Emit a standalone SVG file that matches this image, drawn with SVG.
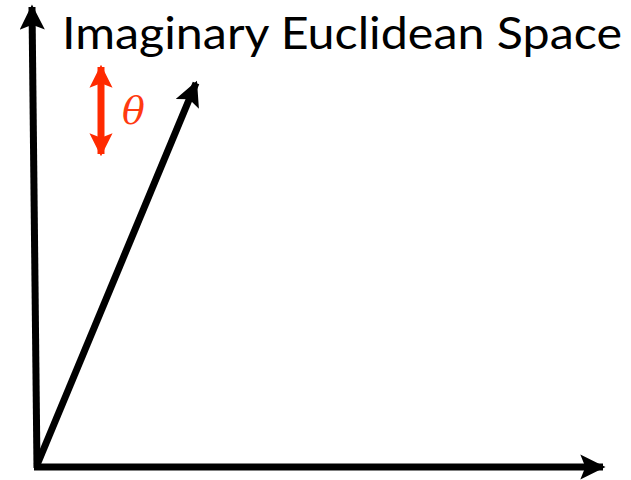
<svg xmlns="http://www.w3.org/2000/svg" width="631" height="480" viewBox="0 0 631 480">
<style>
.ax{stroke:#000;stroke-width:7;fill:none}
.red{stroke:#ff2a00;stroke-width:7;fill:none}
.t{font-family:Lato,"Open Sans",sans-serif;font-size:45px;fill:#000}
.th{font-family:"DejaVu Serif","Liberation Serif",serif;font-style:italic;font-size:38px;fill:#ff3a10}
</style>
<defs>
<marker id="ah" viewBox="0 0 10 10" refX="9" refY="5" markerWidth="3.6" markerHeight="3.6" markerUnits="strokeWidth" orient="auto-start-reverse">
<path d="M0,0 L10,5 L0,10 L2,5 Z" fill="#000"/>
</marker>
<marker id="rh" viewBox="0 0 10 10" refX="9" refY="5" markerWidth="3.3" markerHeight="3.3" markerUnits="strokeWidth" orient="auto-start-reverse">
<path d="M0,0 L10,5 L0,10 L2,5 Z" fill="#ff2a00"/>
</marker>
</defs>
<g id="connectors">
<line class="ax" x1="37" y1="468" x2="32" y2="7" marker-end="url(#ah)"/>
<line class="ax" x1="34" y1="467" x2="603" y2="467" marker-end="url(#ah)"/>
<line class="ax" x1="37" y1="465" x2="196" y2="83" marker-end="url(#ah)"/>
<line class="red" x1="101" y1="67" x2="101" y2="154" marker-start="url(#rh)" marker-end="url(#rh)"/>
</g>
<g id="title"><text class="t" x="62" y="49" textLength="560" lengthAdjust="spacingAndGlyphs">Imaginary Euclidean Space</text></g>
<g id="theta"><text class="th" x="122" y="124">θ</text></g>
</svg>
